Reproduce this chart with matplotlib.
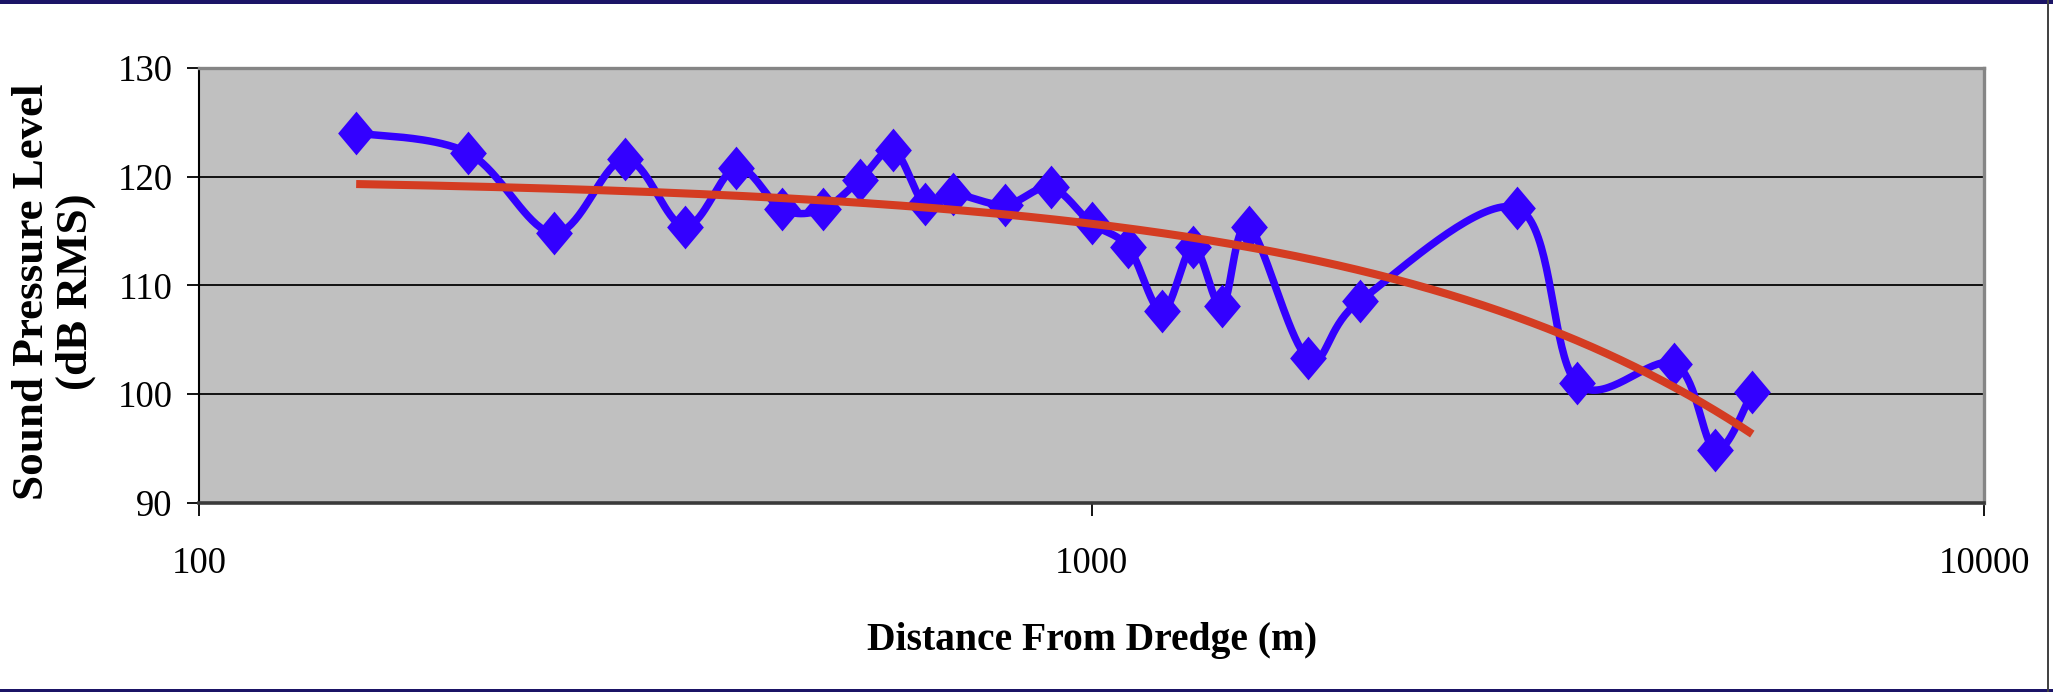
import numpy as np
import matplotlib
matplotlib.use("Agg")
import matplotlib.pyplot as plt
from matplotlib.patches import Rectangle
from matplotlib.ticker import NullLocator

# Measured sound pressure levels vs. distance from the dredge
distance_m = [150, 200, 250, 300, 350, 400, 450, 500, 550, 600, 650, 700,
              800, 900, 1000, 1100, 1200, 1300, 1400, 1500, 1750, 2000,
              3000, 3500, 4500, 5000, 5500]
spl_db = [124.0, 122.2, 114.8, 121.6, 115.4, 120.8, 117.0, 117.0, 119.7,
          122.4, 117.5, 118.4, 117.4, 119.0, 115.7, 113.5, 107.6, 113.5,
          108.1, 115.4, 103.3, 108.6, 117.1, 101.0, 102.8, 94.9, 100.2]

x_ticks = [100, 1000, 10000]
x_tick_labels = ["100", "1000", "10000"]
y_ticks = [90, 100, 110, 120, 130]
x_label = "Distance From Dredge (m)"
y_label = "Sound Pressure Level\n(dB RMS)"

BLUE = "#3300FF"
RED = "#D43C22"
PLOT_BG = "#C0C0C0"
NAVY = "#1B1466"

plt.rcParams["font.family"] = ["Liberation Serif", "DejaVu Serif"]

W, H = 2053, 692
fig = plt.figure(figsize=(W / 100, H / 100), dpi=100)
fig.patch.set_facecolor("white")

ax = fig.add_axes([199 / W, 1 - 503 / H, (1984 - 199) / W, (503 - 67.7) / H])
ax.set_facecolor(PLOT_BG)
ax.set_xscale("log")
ax.set_xlim(100, 10000)
ax.set_ylim(90, 130)

ax.set_xticks(x_ticks)
ax.set_xticklabels(x_tick_labels)
ax.xaxis.set_minor_locator(NullLocator())
ax.set_yticks(y_ticks)
ax.tick_params(axis="both", direction="out", length=9, width=1.3,
               color="black", labelsize=26.5, labelcolor="black")
ax.tick_params(axis="x", pad=22)
ax.tick_params(axis="y", pad=10)

ax.grid(axis="y", color="#111111", linewidth=1.4)
ax.grid(axis="x", visible=False)
ax.set_axisbelow(True)

ax.spines["left"].set_color("black")
ax.spines["left"].set_linewidth(1.5)
ax.spines["bottom"].set_color("#3a3a3a")
ax.spines["bottom"].set_linewidth(2.6)
for side in ("top", "right"):
    ax.spines[side].set_color("#858585")
    ax.spines[side].set_linewidth(2.4)


def smoothed(axes, xs, ys, steps=40):
    """Catmull-Rom style smoothing computed in screen space."""
    pts = axes.transData.transform(np.column_stack([xs, ys]))
    p = np.vstack([pts[0], pts, pts[-1]])
    t = np.linspace(0, 1, steps + 1)[1:, None]
    out = [pts[:1]]
    for i in range(1, len(p) - 2):
        p0, p1, p2, p3 = p[i - 1], p[i], p[i + 1], p[i + 2]
        c1 = p1 + (p2 - p0) / 6.0
        c2 = p2 - (p3 - p1) / 6.0
        seg = ((1 - t) ** 3) * p1 + 3 * ((1 - t) ** 2) * t * c1 \
            + 3 * (1 - t) * t ** 2 * c2 + t ** 3 * p2
        out.append(seg)
    out = np.vstack(out)
    return axes.transData.inverted().transform(out)


curve = smoothed(ax, distance_m, spl_db)
ax.plot(curve[:, 0], curve[:, 1], color=BLUE, linewidth=5.4,
        solid_capstyle="round", solid_joinstyle="round", zorder=3)

diamond = [(0, 1), (0.84, 0), (0, -1), (-0.84, 0), (0, 1)]
ax.plot(distance_m, spl_db, linestyle="none", marker=diamond,
        markersize=31.5, markerfacecolor=BLUE, markeredgewidth=0, zorder=4)

# Linear least-squares trend of level against distance
coef = np.polyfit(distance_m, spl_db, 1)
xt = np.linspace(min(distance_m), max(distance_m), 500)
ax.plot(xt, np.polyval(coef, xt), color=RED, linewidth=5.8,
        solid_capstyle="butt", zorder=5)

fig.text(54 / W, 1 - 292 / H, y_label, rotation=90, ha="center", va="center",
         multialignment="center", fontsize=32.5, fontweight="bold",
         linespacing=1.1)
fig.text(1092 / W, 1 - 650 / H, x_label, ha="center", va="baseline",
         fontsize=28.5, fontweight="bold")

# Page frame
fig.add_artist(Rectangle((0, 1 - 4 / H), 1, 4 / H, transform=fig.transFigure,
                         facecolor=NAVY, edgecolor="none"))
fig.add_artist(Rectangle((0, 0), 1, 3 / H, transform=fig.transFigure,
                         facecolor=NAVY, edgecolor="none"))
fig.add_artist(Rectangle((2047 / W, 0), 2 / W, 1, transform=fig.transFigure,
                         facecolor="#444444", edgecolor="none"))

fig.savefig("out.png", dpi=100, facecolor=fig.get_facecolor())
